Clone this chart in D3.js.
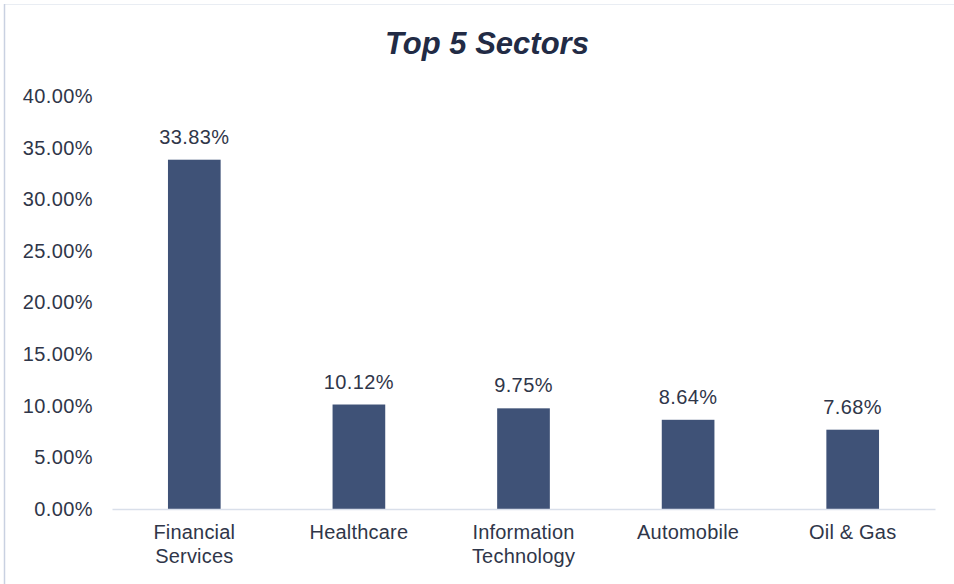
<!DOCTYPE html>
<html>
<head>
<meta charset="utf-8">
<script src="https://cdn.jsdelivr.net/npm/d3@7"></script>
<style>
  body { margin: 0; background: #fff; }
  text { font-family: "Liberation Sans", Arial, sans-serif; }
</style>
</head>
<body>
<div id="chart"></div>
<script>
// chart data
var categories = ["Financial Services", "Healthcare", "Information Technology", "Automobile", "Oil & Gas"];
var shares = [33.83, 10.12, 9.75, 8.64, 7.68];
var tickValues = [0, 5, 10, 15, 20, 25, 30, 35, 40];

var W = 954, H = 584;
var margin = { top: 96, right: 19, bottom: 75, left: 112 },
  width = W - margin.left - margin.right,
  height = H - margin.top - margin.bottom;

var textColor = "#2f3649";
var fontSize = 20;

var svg = d3.select("#chart").append("svg")
  .attr("width", W)
  .attr("height", H);

// frame
svg.append("rect")
  .attr("x", 4.5).attr("y", 4.5)
  .attr("width", W + 10).attr("height", H + 10)
  .attr("fill", "none")
  .attr("stroke", "#e9edf3");
svg.append("line")
  .attr("x1", 4.5).attr("x2", 4.5).attr("y1", 4).attr("y2", H)
  .attr("stroke", "#c9d1e1").attr("stroke-width", 1.5);

// title
svg.append("text")
  .attr("x", 487).attr("y", 54)
  .attr("text-anchor", "middle")
  .attr("font-size", 31)
  .attr("font-weight", "bold")
  .attr("font-style", "italic")
  .attr("fill", "#222b45")
  .text("Top 5 Sectors");

var g = svg.append("g")
  .attr("transform", "translate(" + margin.left + "," + margin.top + ")");

var x = d3.scaleBand()
  .domain(categories)
  .range([0, width])
  .paddingInner(0.68)
  .paddingOuter(0.34);

var y = d3.scaleLinear()
  .domain([0, 40])
  .range([height, 0]);

// y axis labels (no line)
var yAxis = g.append("g")
  .call(d3.axisLeft(y).tickValues(tickValues).tickSize(0).tickPadding(19)
    .tickFormat(function (d) { return d.toFixed(2) + "%"; }));
yAxis.select(".domain").remove();
yAxis.selectAll(".tick text")
  .attr("font-size", fontSize)
  .attr("letter-spacing", 0.4)
  .attr("font-family", "Liberation Sans, Arial, sans-serif")
  .attr("fill", textColor);

// bars
g.selectAll(".bar")
  .data(categories)
  .enter().append("rect")
  .attr("class", "bar")
  .attr("x", function (d) { return x(d); })
  .attr("width", x.bandwidth())
  .attr("y", function (d, i) { return y(shares[i]); })
  .attr("height", function (d, i) { return height - y(shares[i]); })
  .attr("fill", "#3f5277");

// value labels
g.selectAll(".val")
  .data(categories)
  .enter().append("text")
  .attr("class", "val")
  .attr("x", function (d) { return x(d) + x.bandwidth() / 2; })
  .attr("y", function (d, i) { return y(shares[i]) - 16; })
  .attr("text-anchor", "middle")
  .attr("font-size", fontSize)
  .attr("letter-spacing", 0.4)
  .attr("fill", textColor)
  .text(function (d, i) { return shares[i].toFixed(2) + "%"; });

// x axis
var xAxis = g.append("g")
  .attr("transform", "translate(0," + height + ")")
  .call(d3.axisBottom(x).tickSize(0).tickPadding(0));
xAxis.select(".domain")
  .attr("stroke", "#d9dfea")
  .attr("stroke-width", 1.5);
xAxis.selectAll(".tick text").remove();

// wrapped category labels
xAxis.selectAll(".tick").each(function (d) {
  var words = d === "Oil & Gas" ? [d] : d.split(" ");
  var t = d3.select(this).append("text")
    .attr("text-anchor", "middle")
    .attr("font-size", fontSize)
    .attr("letter-spacing", 0.2)
    .attr("fill", textColor);
  words.forEach(function (w, i) {
    t.append("tspan")
      .attr("x", 0)
      .attr("y", 30 + i * 24)
      .text(w);
  });
});
</script>
</body>
</html>
